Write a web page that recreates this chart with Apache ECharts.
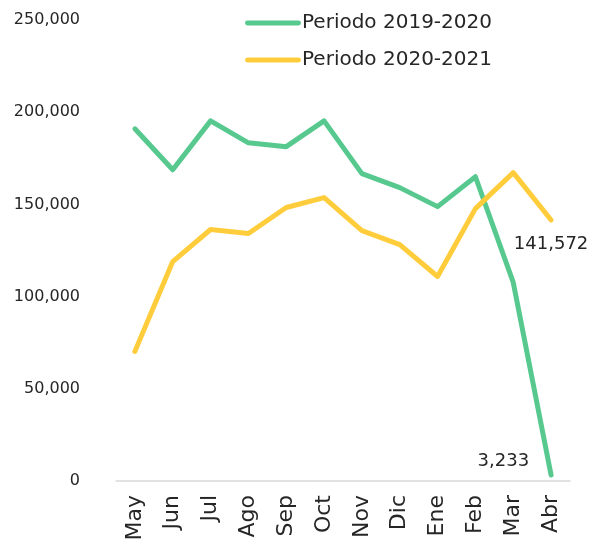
<!DOCTYPE html>
<html><head><meta charset="utf-8">
<script src="https://cdn.jsdelivr.net/npm/echarts@6/dist/echarts.min.js"></script>
<style>html,body{margin:0;padding:0;background:#fff}#c{width:603px;height:546px}</style>
</head><body><div id="c"></div>
<script>
const categories = ['May','Jun','Jul','Ago','Sep','Oct','Nov','Dic','Ene','Feb','Mar','Abr'];
const serie1Name = 'Periodo 2019-2020';
const serie2Name = 'Periodo 2020-2021';
const serie1 = [191000, 168800, 195300, 183400, 181300, 195300, 166700, 159100, 148800, 165000, 107700, 3233];
const serie2 = [70300, 119000, 136400, 134200, 148300, 153700, 135800, 128200, 110900, 147700, 167200, 141572];
const font = 'DejaVu Sans';
const txt = '#262626';
const chart = echarts.init(document.getElementById('c'));
const fmt = v => v.toLocaleString('en-US');
const lastOnly = p => p.dataIndex === categories.length - 1 ? fmt(p.value) : '';
chart.setOption({
  animation: false,
  textStyle: {fontFamily: font},
  grid: {left: 116, right: 33, top: 20, bottom: 65},
  legend: {
    orient: 'vertical', left: 240, top: 8, itemGap: 17,
    itemWidth: 56, itemHeight: 20,
    icon: 'path://M2,8 L54,8 A2.5,2.5 0 0 1 54,13 L2,13 A2.5,2.5 0 0 1 2,8 Z',
    textStyle: {fontFamily: font, fontSize: 20, color: txt, padding: [0,0,0,-4]},
    data: [serie1Name, serie2Name]
  },
  xAxis: {
    type: 'category', data: categories, boundaryGap: true,
    axisLine: {lineStyle: {color: '#d9d9d9', width: 1.5}},
    axisTick: {show: false},
    axisLabel: {rotate: 90, fontSize: 22, color: txt, margin: 14, fontFamily: font}
  },
  yAxis: {
    type: 'value', min: 0, max: 250000, interval: 50000,
    splitLine: {show: false}, axisLine: {show: false}, axisTick: {show: false},
    axisLabel: {fontSize: 16, color: txt, margin: 36, formatter: fmt, fontFamily: font}
  },
  series: [
    {name: serie1Name, type: 'line', data: serie1, showSymbol: true, symbol: 'circle', symbolSize: 0,
     lineStyle: {width: 5, color: '#57C98F', cap: 'round', join: 'round'}, itemStyle: {color: '#57C98F'},
     label: {show: true, position: 'left', distance: 22, offset: [0, -14], fontSize: 18, color: txt, fontFamily: font,
       formatter: lastOnly}},
    {name: serie2Name, type: 'line', data: serie2, showSymbol: true, symbol: 'circle', symbolSize: 0,
     lineStyle: {width: 5, color: '#FFCD3C', cap: 'round', join: 'round'}, itemStyle: {color: '#FFCD3C'},
     label: {show: true, position: 'bottom', distance: 15, fontSize: 18, color: txt, fontFamily: font,
       formatter: lastOnly}}
  ]
});
</script></body></html>
